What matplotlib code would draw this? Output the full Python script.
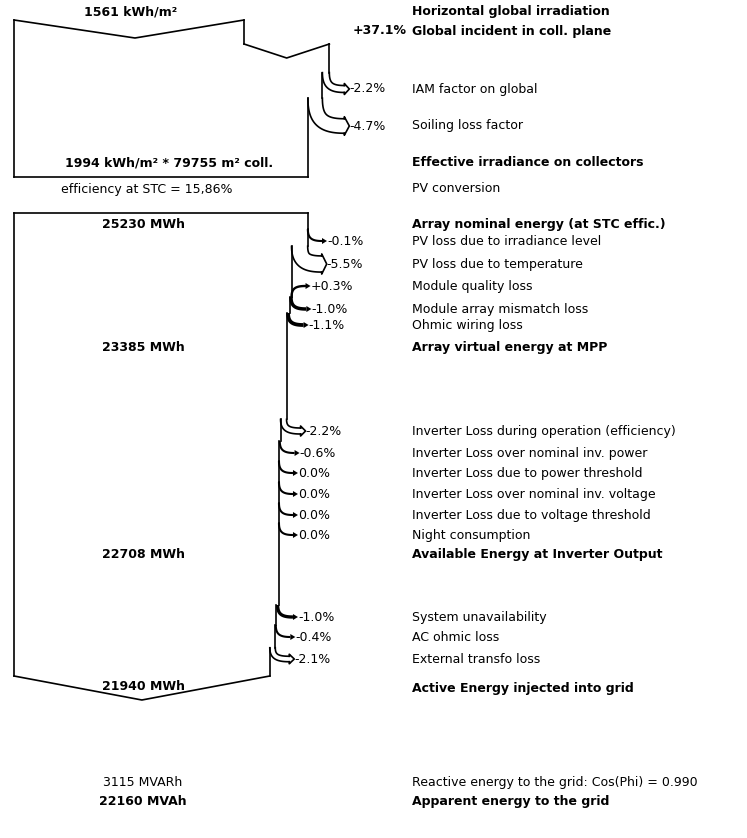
import numpy as np
import matplotlib.pyplot as plt

plt.rcParams['font.family'] = ['DejaVu Sans']

# irradiation part (kWh/m2)
horizontal_irr = 1561
effective_irr = 1994
collector_area = 79755
stc_efficiency = "15,86"
incident_gain = 37.1
irr_loss_pct = [-2.2, -4.7]
irr_loss_names = ["IAM factor on global", "Soiling loss factor"]

# energy part (MWh)
nominal_energy = 25230
array_loss_pct = [-0.1, -5.5, 0.3, -1.0, -1.1]
array_loss_names = ["PV loss due to irradiance level", "PV loss due to temperature",
                    "Module quality loss", "Module array mismatch loss", "Ohmic wiring loss"]
mpp_energy = 23385
inverter_loss_pct = [-2.2, -0.6, 0.0, 0.0, 0.0, 0.0]
inverter_loss_names = ["Inverter Loss during operation (efficiency)",
                       "Inverter Loss over nominal inv. power",
                       "Inverter Loss due to power threshold",
                       "Inverter Loss over nominal inv. voltage",
                       "Inverter Loss due to voltage threshold",
                       "Night consumption"]
inverter_out_energy = 22708
grid_loss_pct = [-1.0, -0.4, -2.1]
grid_loss_names = ["System unavailability", "AC ohmic loss", "External transfo loss"]
grid_energy = 21940
reactive_energy = 3115
apparent_energy = 22160
cos_phi = 0.990

# row positions (pixels from top)
y_horiz, y_incident, y_effective, y_pvconv = 12, 31, 163, 189
irr_loss_y = [89, 126]
y_nominal, y_mpp, y_inv_out, y_grid = 224, 347, 554, 688
array_loss_y = [241, 264, 286, 309, 325]
inverter_loss_y = [431, 453, 473, 494, 515, 535]
grid_loss_y = [617, 637, 659]
y_reactive, y_apparent = 782, 801

L = 14
LABEL_X = 412
VALUE_X = 143
FS = 9.0
LW = 1.2


def bez(p0, p1, p2, p3, n=40):
    t = np.linspace(0, 1, n)[:, None]
    p0, p1, p2, p3 = [np.array(p, dtype=float) for p in (p0, p1, p2, p3)]
    return (1 - t)**3 * p0 + 3 * (1 - t)**2 * t * p1 + 3 * (1 - t) * t**2 * p2 + t**3 * p3


def arrow_curve(x, y0, xt, yt):
    dx = xt - x
    dy = yt - y0
    return bez((x, y0), (x, y0 + 0.75 * dy), (x + 0.25 * dx, yt), (xt, yt))


def draw_loss(ax, x0, x1, yt, xt, drop):
    w = x0 - x1
    y0 = yt - drop
    if w < 3.2:
        c = arrow_curve(x0 - w / 2, y0, xt, yt)
        ax.plot(c[:, 0], c[:, 1], color='k', lw=max(1.5, w * 0.9), solid_capstyle='butt')
        ax.fill([xt, xt + 5, xt], [yt - 3, yt, yt + 3], color='k', lw=0)
    else:
        c = arrow_curve(x0 - w / 2, y0, xt, yt)
        tx = np.gradient(c[:, 0])
        ty = np.gradient(c[:, 1])
        nrm = np.hypot(tx, ty)
        nx, ny = -ty / nrm, tx / nrm
        inner = c + np.column_stack([nx, ny]) * w / 2
        outer = c - np.column_stack([nx, ny]) * w / 2
        ax.plot(outer[:, 0], outer[:, 1], color='k', lw=LW)
        ax.plot(inner[:, 0], inner[:, 1], color='k', lw=LW)
        h = w / 2
        ax.plot([outer[-1, 0], xt, xt + 5, xt, inner[-1, 0]],
                [yt - h, yt - h - 2, yt, yt + h + 2, yt + h], color='k', lw=LW)
    return y0


def right_label(ax, y, text, bold=False):
    ax.text(LABEL_X, y, text, fontsize=FS, va='center', ha='left',
            fontweight='bold' if bold else 'normal')


def pct_text(p):
    return "%+.1f%%" % p if p != 0 else "0.0%"


fig = plt.figure(figsize=(7.47, 8.38), dpi=100)
ax = fig.add_axes([0, 0, 1, 1])
ax.set_xlim(0, 747)
ax.set_ylim(838, 0)
ax.axis('off')

# ---- irradiation block ----
s1 = 230.0 / horizontal_irr
w = horizontal_irr * s1
top = 20
ax.plot([L, L + 0.526 * w, L + w], [top, top + 18, top], color='k', lw=LW)
w_gain = w * (1 + incident_gain / 100)
ax.plot([L + w, L + w], [top, top + 24], color='k', lw=LW)
ax.plot([L + w, L + (w + w_gain) / 2, L + w_gain], [top + 24, top + 38, top + 24], color='k', lw=LW)
ax.text(407, y_incident, "+37.1%", fontsize=FS, fontweight='bold', va='center', ha='right')

edge_y = top + 24
w_cur = w_gain
xt1 = L + w_gain + 15
for pct, yt in zip(irr_loss_pct, irr_loss_y):
    w_new = w_cur * (1 + pct / 100)
    x0, x1 = L + w_cur, L + w_new
    drop = 6 + 1.5 * (x0 - x1)
    ax.plot([x0, x0], [edge_y, yt - drop], color='k', lw=LW)
    edge_y = draw_loss(ax, x0, x1, yt, xt1, drop)
    ax.text(xt1 + 5, yt, "%.1f%%" % pct, fontsize=FS, va='center', ha='left')
    w_cur = w_new
bot1 = 177
ax.plot([L + w_cur, L + w_cur], [edge_y, bot1], color='k', lw=LW)
ax.plot([L, L + w_cur], [bot1, bot1], color='k', lw=LW)
ax.plot([L, L], [top, bot1], color='k', lw=LW)

ax.text(L + w / 2 + 2, y_horiz, "%d kWh/m²" % horizontal_irr, fontsize=FS, fontweight='bold',
        ha='center', va='center')
ax.text(L + w_cur / 2 + 8, y_effective, "%d kWh/m² * %d m² coll." % (effective_irr, collector_area),
        fontsize=FS, fontweight='bold', ha='center', va='center')
ax.text(147, y_pvconv, "efficiency at STC = %s%%" % stc_efficiency, fontsize=FS,
        ha='center', va='center')

right_label(ax, y_horiz, "Horizontal global irradiation", True)
right_label(ax, y_incident, "Global incident in coll. plane", True)
for name, yt in zip(irr_loss_names, irr_loss_y):
    right_label(ax, yt, name)
right_label(ax, y_effective, "Effective irradiance on collectors", True)
right_label(ax, y_pvconv, "PV conversion")

# ---- energy block ----
s2 = 294.0 / nominal_energy
w_cur = nominal_energy * s2
top2 = 213
ax.plot([L, L + w_cur], [top2, top2], color='k', lw=LW)
edge_y = top2

all_pct = array_loss_pct + inverter_loss_pct + grid_loss_pct
all_y = array_loss_y + inverter_loss_y + grid_loss_y
for pct, yt in zip(all_pct, all_y):
    w_new = w_cur * (1 + pct / 100)
    x0, x1 = L + w_cur, L + w_new
    xt = x0 + 14
    if pct > 0:
        ys = yt + 11
        ax.plot([x0, x0], [edge_y, ys], color='k', lw=LW)
        c = arrow_curve(x0, ys, xt, yt)
        ax.plot(c[:, 0], c[:, 1], color='k', lw=1.7)
        ax.fill([xt, xt + 5, xt], [yt - 3, yt, yt + 3], color='k', lw=0)
        edge_y = ys
    else:
        wl = x0 - x1
        drop = 12 if wl < 3.2 else 8 + 0.6 * wl
        ax.plot([x0, x0], [edge_y, yt - drop], color='k', lw=LW)
        edge_y = draw_loss(ax, x0, x1, yt, xt, drop)
    ax.text(xt + 5, yt, pct_text(pct), fontsize=FS, va='center', ha='left')
    w_cur = w_new

bot2 = 676
ax.plot([L + w_cur, L + w_cur], [edge_y, bot2], color='k', lw=LW)
ax.plot([L + w_cur, L + w_cur / 2, L], [bot2, bot2 + 24, bot2], color='k', lw=LW)
ax.plot([L, L], [top2, bot2], color='k', lw=LW)

for e, yv in zip([nominal_energy, mpp_energy, inverter_out_energy, grid_energy],
                 [y_nominal, y_mpp, y_inv_out, y_grid - 2]):
    ax.text(VALUE_X, yv, "%d MWh" % e, fontsize=FS, fontweight='bold', ha='center', va='center')
ax.text(VALUE_X, y_reactive, "%d MVARh" % reactive_energy, fontsize=FS, ha='center', va='center')
ax.text(VALUE_X, y_apparent, "%d MVAh" % apparent_energy, fontsize=FS, fontweight='bold',
        ha='center', va='center')

right_label(ax, y_nominal, "Array nominal energy (at STC effic.)", True)
for name, yt in zip(array_loss_names, array_loss_y):
    right_label(ax, yt, name)
right_label(ax, y_mpp, "Array virtual energy at MPP", True)
for name, yt in zip(inverter_loss_names, inverter_loss_y):
    right_label(ax, yt, name)
right_label(ax, y_inv_out, "Available Energy at Inverter Output", True)
for name, yt in zip(grid_loss_names, grid_loss_y):
    right_label(ax, yt, name)
right_label(ax, y_grid, "Active Energy injected into grid", True)
right_label(ax, y_reactive, "Reactive energy to the grid: Cos(Phi) = %.3f" % cos_phi)
right_label(ax, y_apparent, "Apparent energy to the grid", True)

fig.savefig("out.png", dpi=100, facecolor='white')
